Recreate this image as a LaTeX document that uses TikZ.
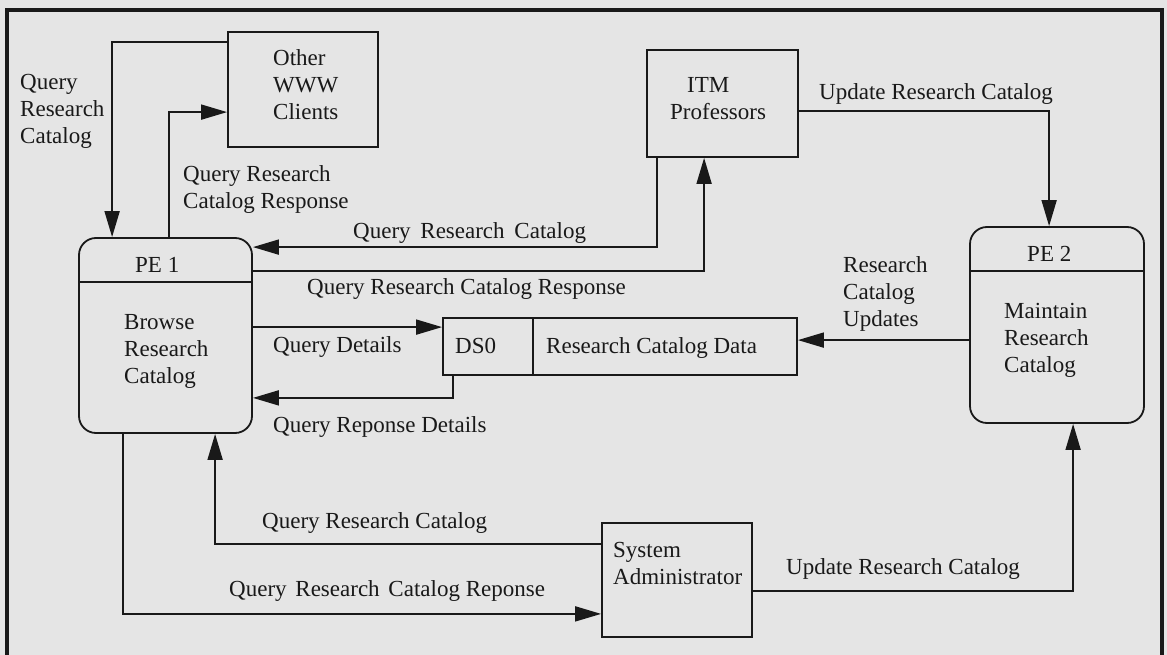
\documentclass[tikz,border=0pt]{standalone}
\usepackage{fontspec}
\setmainfont{Liberation Serif}
\usetikzlibrary{arrows.meta}
\definecolor{bgcol}{RGB}{229,229,229}
\definecolor{ink}{RGB}{25,25,25}
\begin{document}
\begin{tikzpicture}[x=1pt,y=-1pt,
  every node/.style={font=\fontsize{23}{27}\selectfont, text=ink},
  box/.style={draw=ink, line width=1.8pt, rectangle, inner sep=0pt},
  proc/.style={box, rounded corners=17pt},
  txt/.style={anchor=base west, inner sep=0pt, align=left},
  flow/.style={draw=ink, line width=1.8pt, -{Triangle[length=26pt,width=15pt]}},
  divider/.style={draw=ink, line width=1.8pt}
]
\useasboundingbox (0,0) rectangle (1167,655);
\fill[bgcol] (0,0) rectangle (1167,655);
\draw[draw=ink, line width=4pt] (7,10) rectangle (1162,662);

% boxes
\node[box, minimum width=150pt, minimum height=115pt] (other) at (303,89.5) {};
\node[box, minimum width=151pt, minimum height=107pt] (itm) at (722.5,103.5) {};
\node[proc, minimum width=173pt, minimum height=195pt] (pe1) at (165.5,335.5) {};
\node[proc, minimum width=174pt, minimum height=196pt] (pe2) at (1057,325) {};
\node[box, minimum width=354pt, minimum height=57pt] (ds0) at (620,346.5) {};
\node[box, minimum width=150pt, minimum height=114pt] (sys) at (677,580) {};

% dividers
\draw[divider] ([yshift=-45pt]pe1.north west) -- ([yshift=-45pt]pe1.north east);
\draw[divider] ([yshift=-45pt]pe2.north west) -- ([yshift=-45pt]pe2.north east);
\draw[divider] ([xshift=91pt]ds0.north west) -- ([xshift=91pt]ds0.south west);

% texts inside boxes (base anchor = baseline of last line)
\node[txt] (otherT) at (273,120) {Other\\WWW\\Clients};
\node[txt] (itmT) at (670,120) {\hspace*{17pt}ITM\\Professors};
\node[txt] (pe1H) at (135,272) {PE 1};
\node[txt] (pe1T) at (124,383) {Browse\\Research\\Catalog};
\node[txt] (pe2H) at (1027,261) {PE 2};
\node[txt] (pe2T) at (1004,372) {Maintain\\Research\\Catalog};
\node[txt] (ds0A) at (455,353) {DS0};
\node[txt] (ds0B) at (546,353) {Research Catalog Data};
\node[txt] (sysT) at (613,584) {System\\Administrator};

% connectors
\draw[flow] ([yshift=-11pt]other.north west) -| ([xshift=34pt]pe1.north west);
\draw[flow] ([xshift=91pt]pe1.north west) |- ([yshift=-81pt]other.north west);
\draw[flow] ([xshift=11pt]itm.south west) |- ([yshift=-10pt]pe1.north east);
\draw[flow] ([yshift=-34pt]pe1.north east) -| ([xshift=58pt]itm.south west);
\draw[flow] ([yshift=-62pt]itm.north east) -| ([xshift=80pt]pe2.north west);
\draw[flow] ([yshift=-90pt]pe1.north east) -- ([yshift=-10pt]ds0.north west);
\draw[flow] ([xshift=11pt]ds0.south west) |- ([yshift=36pt]pe1.south east);
\draw[flow] ([yshift=-114pt]pe2.north west) -- ([yshift=-23pt]ds0.north east);
\draw[flow] ([yshift=-22pt]sys.north west) -| ([xshift=137pt]pe1.south west);
\draw[flow] ([xshift=45pt]pe1.south west) |- ([yshift=24pt]sys.south west);
\draw[flow] ([yshift=-69pt]sys.north east) -| ([xshift=104pt]pe2.south west);

% connector labels
\node[txt] (lA) at (20,144) {Query\\Research\\Catalog};
\node[txt] (lB) at (183,208) {Query Research\\Catalog Response};
\node[txt] (lC) at (353,238) {Query\hspace{4pt} Research\hspace{4pt} Catalog};
\node[txt] (lD) at (307,294) {Query Research Catalog Response};
\node[txt] (lE) at (273,352) {Query Details};
\node[txt] (lF) at (273,432) {Query Reponse Details};
\node[txt] (lG) at (819,100) {Update Research Catalog};
\node[txt] (lH) at (843,326) {Research\\Catalog\\Updates};
\node[txt] (lI) at (262,528) {Query Research Catalog};
\node[txt] (lJ) at (229,596) {Query\hspace{3pt} Research\hspace{3pt} Catalog Reponse};
\node[txt] (lK) at (786,574) {Update Research Catalog};
\end{tikzpicture}
\end{document}
